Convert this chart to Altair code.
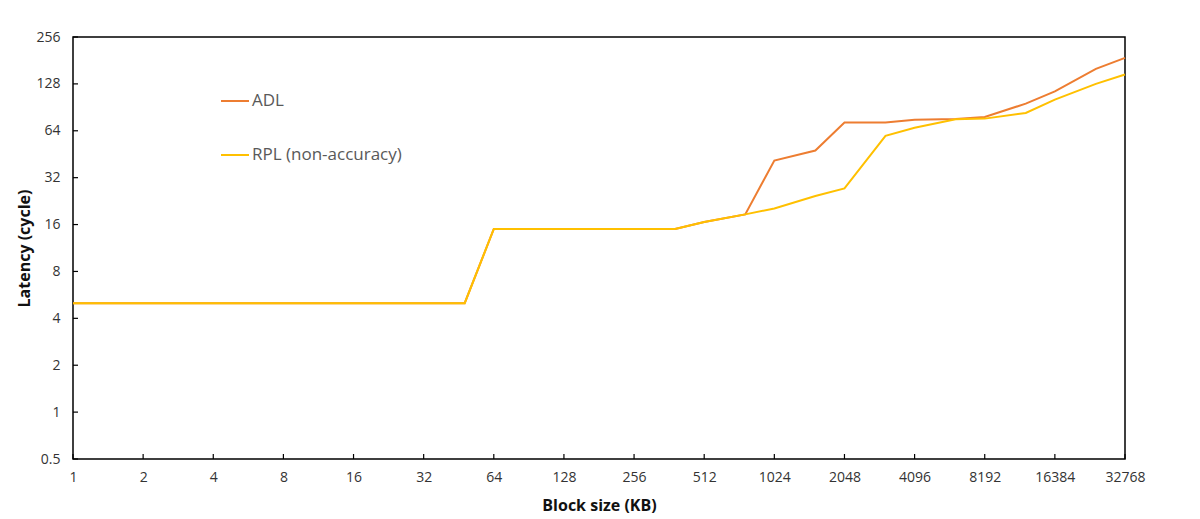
import altair as alt
import pandas as pd

# Block sizes (KB)
sizes = [1, 2, 4, 8, 16, 32, 48, 64, 96, 128, 192, 256, 384, 512, 768,
         1024, 1536, 2048, 3072, 4096, 6144, 8192, 12288, 16384, 24576, 32768]
# Latency (cycle)
adl = [5, 5, 5, 5, 5, 5, 5, 15, 15, 15, 15, 15, 15, 16.6, 18.6,
       41.2, 47.8, 72.4, 72.4, 75.3, 76.2, 78.4, 95.6, 114.7, 160, 188]
rpl = [5, 5, 5, 5, 5, 5, 5, 15, 15, 15, 15, 15, 15, 16.6, 18.6,
       20.3, 24.4, 27.3, 59.4, 66.9, 75.9, 76.6, 83.2, 101.4, 128, 147]

series_names = ["ADL", "RPL (non-accuracy)"]
series_colors = ["#ED7D31", "#FFC000"]

x_ticks = [1, 2, 4, 8, 16, 32, 64, 128, 256, 512, 1024, 2048, 4096, 8192, 16384, 32768]
y_ticks = [0.5, 1, 2, 4, 8, 16, 32, 64, 128, 256]

df = pd.concat([
    pd.DataFrame({"size": sizes, "latency": adl, "series": series_names[0]}),
    pd.DataFrame({"size": sizes, "latency": rpl, "series": series_names[1]}),
])
xt = pd.DataFrame({"v": x_ticks})
yt = pd.DataFrame({"v": y_ticks})

W, H = 1052, 422
FONT = "Open Sans"

xscale = alt.Scale(type="log", base=2, domain=[1, 32768], nice=False)
yscale = alt.Scale(type="log", base=2, domain=[0.5, 256], nice=False)
cscale = alt.Scale(domain=series_names, range=series_colors)

x_enc = alt.X("size:Q", scale=xscale, axis=alt.Axis(
    values=x_ticks, labelExpr="datum.value", ticks=False, domain=False, grid=False,
    labelFlush=False, labelOverlap=False,
    labelPadding=11, labelFont=FONT, labelFontSize=14, labelColor="#333333",
    title="Block size (KB)", titleFont=FONT, titleFontSize=16, titleFontWeight="bold",
    titleColor="#111111", titleY=46, titleBaseline="middle"))
y_enc = alt.Y("latency:Q", scale=yscale, axis=alt.Axis(
    values=y_ticks, labelExpr="datum.value", ticks=False, domain=False, grid=False,
    labelFlush=False, labelOverlap=False,
    labelPadding=13, labelFont=FONT, labelFontSize=14, labelColor="#333333",
    title="Latency (cycle)", titleFont=FONT, titleFontSize=16, titleFontWeight="bold",
    titleColor="#111111", titleX=-49, titleY=H / 2, titleAngle=-90,
    titleBaseline="middle", titleAnchor="middle"))

legend = alt.Legend(
    title=None, orient="none", legendX=147, legendY=49, symbolType="stroke",
    symbolSize=784, symbolStrokeWidth=2, labelFont=FONT, labelFontSize=17,
    labelColor="#595959", labelOffset=2, rowPadding=31, padding=0)

line_adl = alt.Chart(df[df["series"] == series_names[0]]).mark_line(strokeWidth=2).encode(
    x=x_enc, y=y_enc,
    color=alt.Color("series:N", scale=cscale, legend=legend),
)
line_rpl = alt.Chart(df[df["series"] == series_names[1]]).mark_line(strokeWidth=2).encode(
    x=alt.X("size:Q", scale=xscale),
    y=alt.Y("latency:Q", scale=yscale),
    color=alt.Color("series:N", scale=cscale, legend=legend),
)

xtick_layer = alt.Chart(xt).mark_rule(color="#000000", strokeWidth=1.2).encode(
    x=alt.X("v:Q", scale=xscale),
    y=alt.value(H), y2=alt.value(H - 5),
)
ytick_layer = alt.Chart(yt).mark_rule(color="#000000", strokeWidth=1.2).encode(
    y=alt.Y("v:Q", scale=yscale),
    x=alt.value(0), x2=alt.value(5),
)

chart = alt.layer(line_adl, line_rpl, xtick_layer, ytick_layer).properties(
    width=W, height=H,
    autosize=alt.AutoSizeParams(type="none"),
    padding={"left": 65, "top": 29, "right": 50, "bottom": 60},
).configure(
    background="white"
).configure_view(
    stroke="#000000", strokeWidth=1.5
)

chart.save("out.html", embed_options={"renderer": "svg", "actions": False})
